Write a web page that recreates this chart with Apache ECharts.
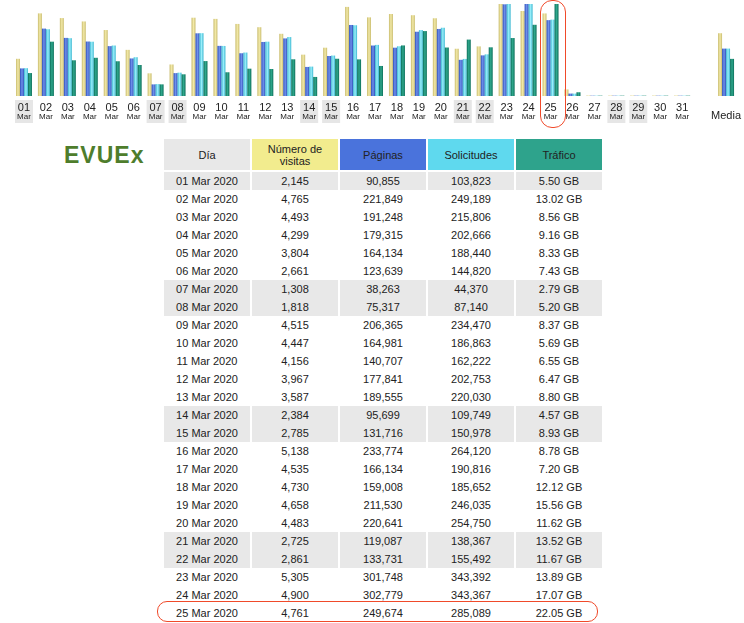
<!DOCTYPE html>
<html>
<head>
<meta charset="utf-8">
<script src="https://cdn.jsdelivr.net/npm/echarts@6/dist/echarts.min.js"></script>
<style>
body { margin: 0; background: #fff; font-family: "Liberation Sans", Arial, sans-serif; }
#chart { position: absolute; left: 0; top: 0; width: 744px; height: 130px; }
#logo { position: absolute; left: 64px; top: 142px; font: bold 23px "Liberation Sans", Arial, sans-serif; color: #4e7d2c; letter-spacing: 1px; }
#stats { position: absolute; left: 162px; top: 139px; border-collapse: separate; border-spacing: 2px 0; font-size: 11px; color: #222; }
#stats th { font-weight: normal; height: 29px; border-bottom: 2px solid #fff; line-height: 12px; }
#stats td { height: 18px; text-align: center; padding: 0; border-bottom: 0; }
#stats tr.we td { background: #e8e8e8; }
.ring { position: absolute; border: 1.3px solid #f04a2a; }
</style>
</head>
<body>
<div id="chart"></div>
<div id="logo">EVUEx</div>
<table id="stats"></table>
<div class="ring" style="left:540px;top:0px;width:24px;height:126px;border-radius:12px;"></div>
<div class="ring" style="left:157px;top:601px;width:439px;height:19px;border-radius:10px;"></div>
<script>
// daily stats, March 2020
let days = ['01','02','03','04','05','06','07','08','09','10','11','12','13','14','15','16',
  '17','18','19','20','21','22','23','24','25','26','27','28','29','30','31'];
let weekend = ['01','07','08','14','15','21','22','28','29'];
let visits = [2145,4765,4493,4299,3804,2661,1308,1818,4515,4447,4156,3967,3587,2384,2785,5138,
  4535,4730,4658,4483,2725,2861,5305,4900,4761,380,25,25,25,25,25];
let pages = [90855,221849,191248,179315,164134,123639,38263,75317,206365,164981,140707,177841,189555,95699,131716,233774,
  166134,159008,211530,220641,119087,133731,301748,302779,249674,8000,1000,1000,1000,1000,1000];
let requests = [103823,249189,215806,202666,188440,144820,44370,87140,234470,186863,162222,202753,220030,109749,150978,264120,
  190816,185652,246035,254750,138367,155492,343392,343367,285089,9000,1200,1200,1200,1200,1200];
let traffic = [5.50,13.02,8.56,9.16,8.33,7.43,2.79,5.20,8.37,5.69,6.55,6.47,8.80,4.57,8.93,8.78,
  7.20,12.12,15.56,11.62,13.52,11.67,13.89,17.07,22.05,0.9,0.08,0.08,0.08,0.08,0.08];
let media = [3620, 156000, 177000, 8.9];
let tableRows = 25;

let cats = days.concat(['', 'Media']);
function withMedia(arr, m) { return arr.concat(['-', m]); }

function grad(a, b) {
  return new echarts.graphic.LinearGradient(0, 0, 1, 0, [
    { offset: 0, color: a }, { offset: 0.5, color: b }, { offset: 1, color: a }]);
}

var myChart = echarts.init(document.getElementById('chart'));
let series = [
  { d: visits, m: media[0], c: grad('#c9bc6e', '#f2e9a8') },
  { d: pages, m: media[1], c: grad('#2f50b8', '#6f90ec') },
  { d: requests, m: media[2], c: grad('#39b6d0', '#9aeefa') },
  { d: traffic, m: media[3], c: grad('#0c6e5a', '#2fa88c') }
];
var option = {
  animation: false,
  grid: { left: 13, width: 726, top: 4, height: 92 },
  xAxis: {
    type: 'category', data: cats,
    axisLine: { show: false }, axisTick: { show: false },
    axisLabel: {
      interval: 0, margin: 4,
      formatter: function (v) {
        if (v === 'Media') return '{m|Media}';
        if (v === '') return '';
        let s = weekend.indexOf(v) >= 0 ? 'w' : 'n';
        return '{' + s + '|' + v + '}\n{' + s + 's|Mar}';
      },
      rich: {
        n: { fontSize: 11, color: '#222', width: 18, align: 'center', padding: [2, 0, 0, 0] },
        ns: { fontSize: 8, color: '#222', width: 18, align: 'center', padding: [0, 0, 2, 0] },
        w: { fontSize: 11, color: '#222', width: 18, align: 'center', backgroundColor: '#e6e6e6', padding: [2, 0, 0, 0] },
        ws: { fontSize: 8, color: '#222', width: 18, align: 'center', backgroundColor: '#e6e6e6', padding: [0, 0, 2, 0] },
        m: { fontSize: 11, color: '#222', padding: [10, 0, 0, 0] }
      }
    }
  },
  yAxis: series.map(function (s) {
    return { type: 'value', show: false, min: 0, max: Math.max.apply(null, s.d) };
  }),
  series: series.map(function (s, i) {
    return {
      type: 'bar', yAxisIndex: i, barWidth: 4, barGap: '0%',
      data: withMedia(s.d, s.m), itemStyle: { color: s.c }
    };
  })
};
myChart.setOption(option);

// table
let tab = `<tr>
  <th style="background:#e8e8e8;width:84px">Día</th>
  <th style="background:#f2ec8e;width:84px">Número de<br>visitas</th>
  <th style="background:#4a73dc;width:84px">Páginas</th>
  <th style="background:#5fd9ee;width:84px">Solicitudes</th>
  <th style="background:#2ea38c;width:84px">Tráfico</th>
</tr>`;
for (let i = 0; i < tableRows; i++) {
  let cls = weekend.indexOf(days[i]) >= 0 ? 'we' : '';
  tab += `<tr class="${cls}">
<td>${days[i]} Mar 2020</td>
<td>${visits[i].toLocaleString('en-US')}</td>
<td>${pages[i].toLocaleString('en-US')}</td>
<td>${requests[i].toLocaleString('en-US')}</td>
<td>${traffic[i].toFixed(2)} GB</td>
</tr>`;
}
document.getElementById('stats').innerHTML = tab;
</script>
</body>
</html>
